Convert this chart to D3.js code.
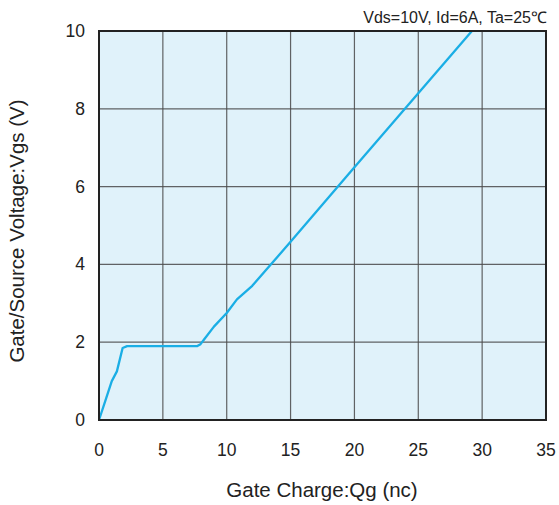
<!DOCTYPE html>
<html><head><meta charset="utf-8">
<script src="https://cdn.jsdelivr.net/npm/d3@7"></script>
<style>body{margin:0;background:#fff}svg{display:block;font-family:"Liberation Sans",Arial,sans-serif}</style>
</head><body><svg id="c" width="559" height="505"></svg>
<script>
const qg  = [0, 0.5, 1.0, 1.4, 1.85, 2.2, 7.7, 7.95, 8.3, 9.0, 10.0, 10.8, 12.0, 15, 20, 25, 29.2];
const vgs = [0, 0.5, 1.0, 1.25, 1.85, 1.9, 1.9, 1.95, 2.1, 2.4, 2.75, 3.1, 3.45, 4.58, 6.5, 8.4, 10];
const xTicks = [0, 5, 10, 15, 20, 25, 30, 35];
const yTicks = [0, 2, 4, 6, 8, 10];
const title = "Vds=10V, Id=6A, Ta=25\u2103";
const xLabel = "Gate Charge:Qg (nc)";
const yLabel = "Gate/Source Voltage:Vgs (V)";

const svg = d3.select("#c");
const L = 99, R = 546, T = 31, B = 420;
const x = d3.scaleLinear().domain([0, 35]).range([L, R]);
const y = d3.scaleLinear().domain([0, 10]).range([B, T]);

svg.append("rect").attr("x", L).attr("y", T).attr("width", R - L).attr("height", B - T).attr("fill", "#e0f2fa");

const g = svg.append("g");
g.selectAll(".vx").data(xTicks.slice(1, -1)).join("line")
  .attr("x1", d => x(d)).attr("x2", d => x(d)).attr("y1", T).attr("y2", B)
  .attr("stroke", "#4a4a4a").attr("stroke-width", 1.2).attr("opacity", 0.85);
g.selectAll(".hy").data(yTicks.slice(1, -1)).join("line")
  .attr("y1", d => y(d)).attr("y2", d => y(d)).attr("x1", L).attr("x2", R)
  .attr("stroke", "#4a4a4a").attr("stroke-width", 1.2).attr("opacity", 0.85);

const line = d3.line().x((d, i) => x(qg[i])).y((d, i) => y(vgs[i]));
svg.append("path").datum(qg).attr("d", line).attr("fill", "none")
  .attr("stroke", "#1aaee5").attr("stroke-width", 2.3).attr("stroke-linejoin", "round");

svg.append("rect").attr("x", L).attr("y", T).attr("width", R - L).attr("height", B - T)
  .attr("fill", "none").attr("stroke", "#222").attr("stroke-width", 2);

svg.selectAll(".xt").data(xTicks).join("text")
  .attr("x", d => x(d)).attr("y", 456).attr("text-anchor", "middle")
  .attr("font-size", 17.5).attr("fill", "#222").text(d => d);
svg.selectAll(".yt").data(yTicks).join("text")
  .attr("x", 85).attr("y", d => y(d) + 6).attr("text-anchor", "end")
  .attr("font-size", 17.5).attr("fill", "#222").text(d => d);

svg.append("text").attr("x", 547).attr("y", 23).attr("text-anchor", "end")
  .attr("font-size", 16).attr("fill", "#222").text(title);
svg.append("text").attr("x", 322).attr("y", 497).attr("text-anchor", "middle")
  .attr("font-size", 20.5).attr("fill", "#222").text(xLabel);
svg.append("text").attr("transform", "translate(24,231) rotate(-90)").attr("text-anchor", "middle")
  .attr("font-size", 20.5).attr("fill", "#222").text(yLabel);
</script></body></html>
